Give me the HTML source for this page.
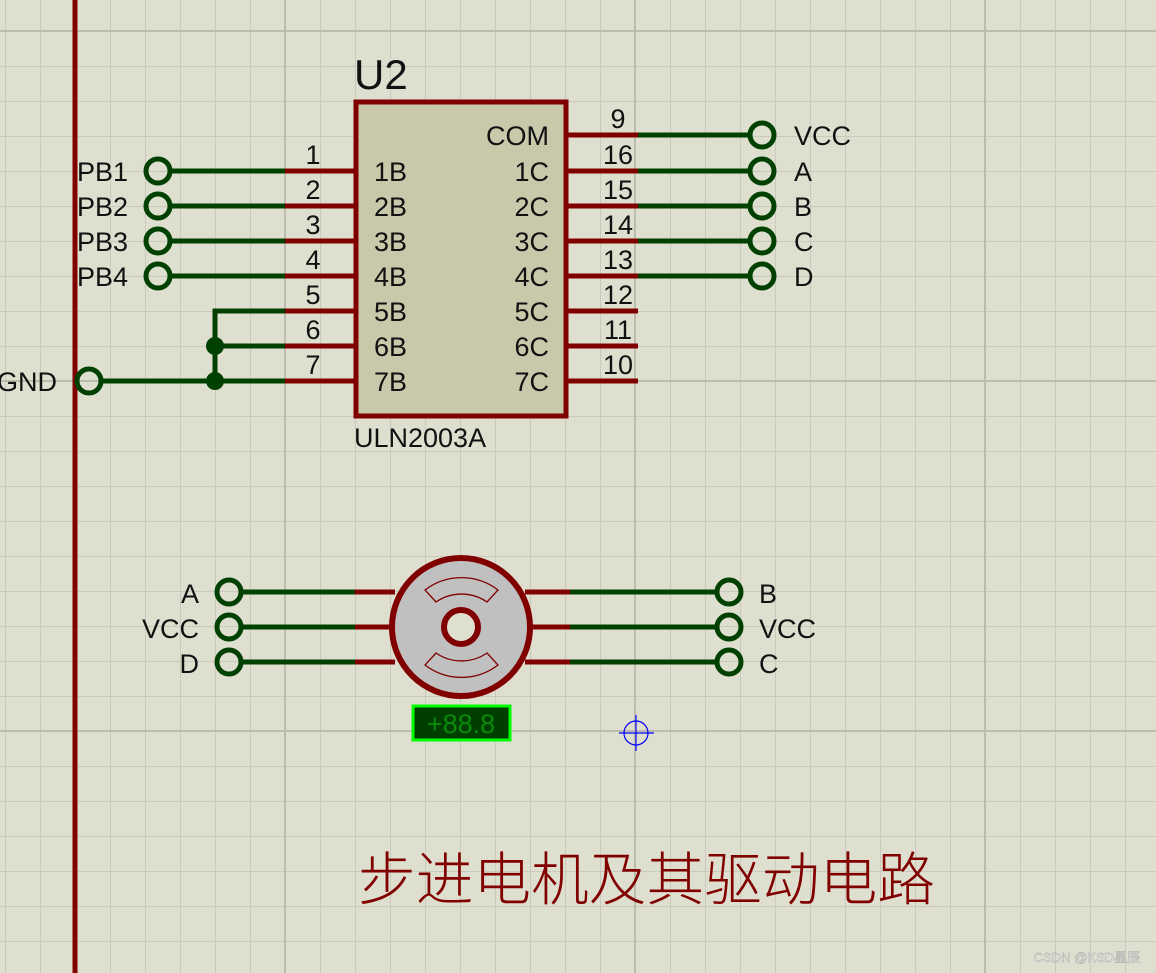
<!DOCTYPE html>
<html><head><meta charset="utf-8"><style>
html,body{margin:0;padding:0;background:#dfdfd0;}
svg{display:block;}
text{font-family:"Liberation Sans","Noto Sans CJK SC",sans-serif;}
</style></head><body>
<svg width="1156" height="973" viewBox="0 0 1156 973" xmlns="http://www.w3.org/2000/svg">
<defs>
<pattern id="g" x="5" y="31" width="35" height="35" patternUnits="userSpaceOnUse">
<path d="M0 0H35M0 0V35" stroke="#c4c4b6" stroke-width="1.5" fill="none"/>
</pattern>
</defs>
<rect width="1156" height="973" fill="#dfdfd0"/>
<rect width="1156" height="973" fill="url(#g)"/>
<g stroke="#bcbcae" stroke-width="2">
<line x1="285" y1="0" x2="285" y2="973"/><line x1="635" y1="0" x2="635" y2="973"/><line x1="985" y1="0" x2="985" y2="973"/>
<line x1="0" y1="31" x2="1156" y2="31"/><line x1="0" y1="381" x2="1156" y2="381"/><line x1="0" y1="731" x2="1156" y2="731"/>
</g>
<line x1="75" y1="0" x2="75" y2="973" stroke="#800000" stroke-width="5"/>

<!-- chip -->
<text x="354" y="89" font-size="42" fill="#111">U2</text>
<rect x="356" y="102" width="210" height="314" fill="#c8c8aa" stroke="#800000" stroke-width="5"/>
<g stroke="#800000" stroke-width="5">
<line x1="285" y1="171" x2="356" y2="171"/><line x1="285" y1="206" x2="356" y2="206"/><line x1="285" y1="241" x2="356" y2="241"/><line x1="285" y1="276" x2="356" y2="276"/><line x1="285" y1="311" x2="356" y2="311"/><line x1="285" y1="346" x2="356" y2="346"/><line x1="285" y1="381" x2="356" y2="381"/>
<line x1="566" y1="135" x2="638" y2="135"/><line x1="566" y1="171" x2="638" y2="171"/><line x1="566" y1="206" x2="638" y2="206"/><line x1="566" y1="241" x2="638" y2="241"/><line x1="566" y1="276" x2="638" y2="276"/><line x1="566" y1="311" x2="638" y2="311"/><line x1="566" y1="346" x2="638" y2="346"/><line x1="566" y1="381" x2="638" y2="381"/>
</g>
<g stroke="#004000" stroke-width="5" fill="none">
<line x1="170" y1="171" x2="285" y2="171"/><line x1="170" y1="206" x2="285" y2="206"/><line x1="170" y1="241" x2="285" y2="241"/><line x1="170" y1="276" x2="285" y2="276"/>
<polyline points="285,311 215,311 215,381"/><line x1="215" y1="346" x2="285" y2="346"/><line x1="101" y1="381" x2="285" y2="381"/>
<line x1="638" y1="135" x2="750" y2="135"/><line x1="638" y1="171" x2="750" y2="171"/><line x1="638" y1="206" x2="750" y2="206"/><line x1="638" y1="241" x2="750" y2="241"/><line x1="638" y1="276" x2="750" y2="276"/>
<circle cx="158" cy="171" r="12"/><circle cx="158" cy="206" r="12"/><circle cx="158" cy="241" r="12"/><circle cx="158" cy="276" r="12"/>
<circle cx="89" cy="381" r="12"/>
<circle cx="762" cy="135" r="12"/><circle cx="762" cy="171" r="12"/><circle cx="762" cy="206" r="12"/><circle cx="762" cy="241" r="12"/><circle cx="762" cy="276" r="12"/>
</g>
<circle cx="215" cy="346" r="9" fill="#004000"/><circle cx="215" cy="381" r="9" fill="#004000"/>
<g font-size="27" fill="#111">
<text x="128" y="181" text-anchor="end">PB1</text><text x="128" y="216" text-anchor="end">PB2</text><text x="128" y="251" text-anchor="end">PB3</text><text x="128" y="286" text-anchor="end">PB4</text>
<text x="57" y="391" text-anchor="end">GND</text>
<text x="313" y="164" text-anchor="middle">1</text><text x="313" y="199" text-anchor="middle">2</text><text x="313" y="234" text-anchor="middle">3</text><text x="313" y="269" text-anchor="middle">4</text><text x="313" y="304" text-anchor="middle">5</text><text x="313" y="339" text-anchor="middle">6</text><text x="313" y="374" text-anchor="middle">7</text>
<text x="374" y="181">1B</text><text x="374" y="216">2B</text><text x="374" y="251">3B</text><text x="374" y="286">4B</text><text x="374" y="321">5B</text><text x="374" y="356">6B</text><text x="374" y="391">7B</text>
<text x="549" y="145" text-anchor="end">COM</text><text x="549" y="181" text-anchor="end">1C</text><text x="549" y="216" text-anchor="end">2C</text><text x="549" y="251" text-anchor="end">3C</text><text x="549" y="286" text-anchor="end">4C</text><text x="549" y="321" text-anchor="end">5C</text><text x="549" y="356" text-anchor="end">6C</text><text x="549" y="391" text-anchor="end">7C</text>
<text x="618" y="128" text-anchor="middle">9</text><text x="618" y="164" text-anchor="middle">16</text><text x="618" y="199" text-anchor="middle">15</text><text x="618" y="234" text-anchor="middle">14</text><text x="618" y="269" text-anchor="middle">13</text><text x="618" y="304" text-anchor="middle">12</text><text x="618" y="339" text-anchor="middle">11</text><text x="618" y="374" text-anchor="middle">10</text>
<text x="794" y="145">VCC</text><text x="794" y="181">A</text><text x="794" y="216">B</text><text x="794" y="251">C</text><text x="794" y="286">D</text>
<text x="354" y="447">ULN2003A</text>
</g>

<!-- motor -->
<g stroke="#800000" stroke-width="5">
<line x1="355" y1="592" x2="395" y2="592"/><line x1="355" y1="627" x2="395" y2="627"/><line x1="355" y1="662" x2="395" y2="662"/>
<line x1="525" y1="592" x2="570" y2="592"/><line x1="525" y1="627" x2="570" y2="627"/><line x1="525" y1="662" x2="570" y2="662"/>
</g>
<g stroke="#004000" stroke-width="5" fill="none">
<line x1="241" y1="592" x2="355" y2="592"/><line x1="241" y1="627" x2="355" y2="627"/><line x1="241" y1="662" x2="355" y2="662"/>
<line x1="570" y1="592" x2="717" y2="592"/><line x1="570" y1="627" x2="717" y2="627"/><line x1="570" y1="662" x2="717" y2="662"/>
<circle cx="229" cy="592" r="12"/><circle cx="229" cy="627" r="12"/><circle cx="229" cy="662" r="12"/>
<circle cx="729" cy="592" r="12"/><circle cx="729" cy="627" r="12"/><circle cx="729" cy="662" r="12"/>
</g>
<circle cx="461" cy="627" r="69" fill="#c0c0c0" stroke="#800000" stroke-width="6"/>
<circle cx="461" cy="627" r="17" fill="#dfdfd0" stroke="#800000" stroke-width="6"/>
<g stroke="#800000" stroke-width="1.3" fill="none">
<path d="M425 590 A60 60 0 0 1 498 590 L487 602 A45 45 0 0 0 436 602 Z"/>
<path d="M425 665 A60 60 0 0 0 498 665 L487 653 A45 45 0 0 1 436 653 Z"/>
</g>
<g font-size="27" fill="#111">
<text x="199" y="603" text-anchor="end">A</text><text x="199" y="638" text-anchor="end">VCC</text><text x="199" y="673" text-anchor="end">D</text>
<text x="759" y="603">B</text><text x="759" y="638">VCC</text><text x="759" y="673">C</text>
</g>
<rect x="413" y="706" width="97" height="34" fill="#003f00" stroke="#00ff00" stroke-width="3"/>
<text x="461" y="733" font-size="27" fill="#0a8a0a" text-anchor="middle">+88.8</text>
<g stroke="#0000ff" stroke-width="1.2" fill="none">
<circle cx="636" cy="733" r="12"/><line x1="619" y1="733" x2="654" y2="733"/><line x1="636" y1="715" x2="636" y2="751"/>
</g>

<text x="358" y="900" font-size="58" fill="#800000" textLength="577" lengthAdjust="spacingAndGlyphs" style="font-family:'Noto Sans CJK SC',sans-serif;font-weight:300">步进电机及其驱动电路</text>
<text x="1140" y="962" font-size="13" fill="#f4f4f4" stroke="#999" stroke-width="0.4" text-anchor="end">CSDN @KSD星辰</text>
</svg>
</body></html>
